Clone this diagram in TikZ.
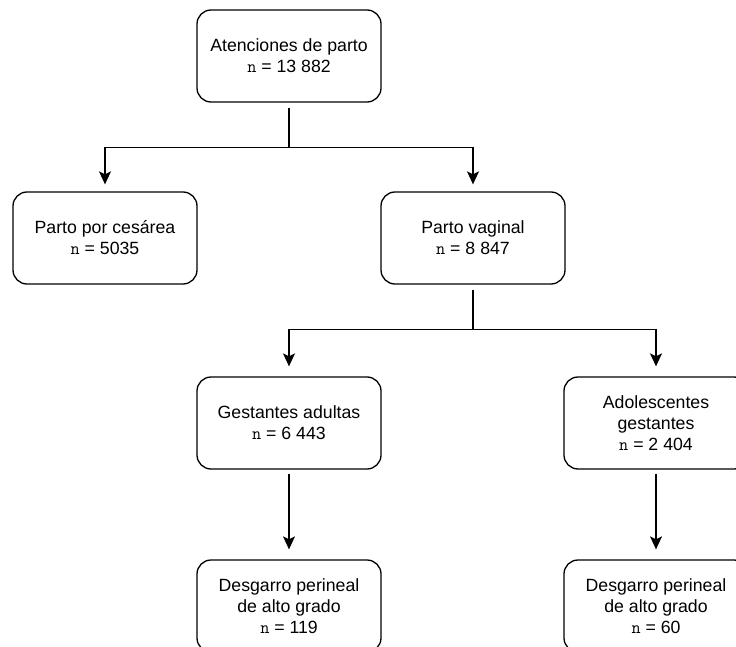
\documentclass[tikz,border=0pt]{standalone}
\usepackage{fontspec}
\setmainfont{Liberation Sans}
\usetikzlibrary{arrows.meta}
\newcommand{\nn}{{\ttfamily n}}
\begin{document}
\begin{tikzpicture}[x=1pt,y=1pt,
  box/.style={draw=black,line width=1.3pt,rounded corners=14pt,minimum width=184pt,minimum height=92pt,
    align=center,font=\fontsize{17.7}{21}\selectfont,inner sep=0pt},
  arr/.style={draw=black,line width=1.3pt,-{Stealth[length=13pt,width=12pt,inset=3pt]}}]
\clip (0,0) rectangle (736,-647);
\useasboundingbox (0,0) rectangle (736,-647);
\node[box] (a) at (289,-56) {Atenciones de parto\\ \nn\ = 13 882};
\node[box] (b) at (105,-238) {Parto por cesárea\\ \nn\ = 5035};
\node[box] (c) at (473,-238) {Parto vaginal\\ \nn\ = 8 847};
\node[box] (d) at (289,-423) {Gestantes adultas\\ \nn\ = 6 443};
\node[box] (e) at (656,-423) {Adolescentes\\ gestantes\\ \nn\ = 2 404};
\node[box] (f) at (289,-606) {Desgarro perineal\\ de alto grado\\ \nn\ = 119};
\node[box] (g) at (656,-606) {Desgarro perineal\\ de alto grado\\ \nn\ = 60};
\draw[arr] ([yshift=-5pt]a.south) -- ++(0,-40) -| ([yshift=7pt]b.north);
\draw[arr] ([yshift=-5pt]a.south) -- ++(0,-40) -| ([yshift=7pt]c.north);
\draw[arr] ([yshift=-5pt]c.south) -- ++(0,-40) -| ([yshift=10pt]d.north);
\draw[arr] ([yshift=-5pt]c.south) -- ++(0,-40) -| ([yshift=10pt]e.north);
\draw[arr] ([yshift=-4pt]d.south) -- ([yshift=10pt]f.north);
\draw[arr] ([yshift=-4pt]e.south) -- ([yshift=10pt]g.north);
\end{tikzpicture}
\end{document}
